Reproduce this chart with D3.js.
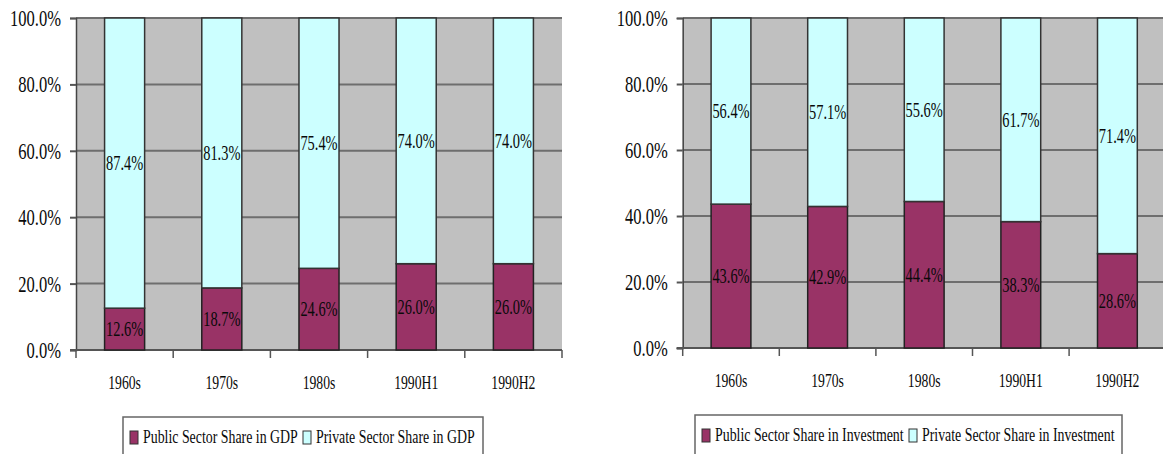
<!DOCTYPE html>
<html>
<head>
<meta charset="utf-8">
<script src="https://cdn.jsdelivr.net/npm/d3@7"></script>
<style>
  html, body { margin: 0; padding: 0; background: #ffffff; }
  svg { display: block; }
</style>
</head>
<body>
<svg id="chart" width="1163" height="454"></svg>
<script>
// Period categories shared by both panels
const categories = ["1960s", "1970s", "1980s", "1990H1", "1990H2"];

// Shares of GDP (%)
const gdpPublic = [12.6, 18.7, 24.6, 26.0, 26.0];
const gdpPrivate = [87.4, 81.3, 75.4, 74.0, 74.0];

// Shares of investment (%)
const invPublic = [43.6, 42.9, 44.4, 38.3, 28.6];
const invPrivate = [56.4, 57.1, 55.6, 61.7, 71.4];

// Value-axis ticks (%)
const yTicks = [0, 20, 40, 60, 80, 100];

const legendGdp = ["Public Sector Share in GDP", "Private Sector Share in GDP"];
const legendInv = ["Public Sector Share in Investment", "Private Sector Share in Investment"];

const COLORS = { public: "#993366", private: "#ccffff" };
const FONT = "'Liberation Serif', 'Times New Roman', serif";

const svg = d3.select("#chart");

// text with horizontally condensed glyphs
function label(g, x, y, str, size, anchor, sx) {
  return g.append("text")
    .attr("transform", `translate(${x},${y}) scale(${sx || 0.72},1)`)
    .attr("text-anchor", anchor || "middle")
    .attr("dominant-baseline", "central")
    .attr("font-family", FONT)
    .attr("font-size", size)
    .attr("fill", "#0a0a0a")
    .text(str);
}

function panel(cfg) {
  const g = svg.append("g");
  const x = d3.scaleBand().domain(categories)
    .range([cfg.left, cfg.right]).paddingInner(0.588).paddingOuter(0.294);
  const y = d3.scaleLinear().domain([0, 100]).range([cfg.bottom, cfg.top]);
  const step = x.step();

  // plot background
  g.append("rect")
    .attr("x", cfg.left).attr("y", cfg.top)
    .attr("width", cfg.right - cfg.left).attr("height", cfg.bottom - cfg.top)
    .attr("fill", "#c0c0c0");

  // gridlines
  g.selectAll(".grid").data(yTicks.filter(t => t > 0)).join("line")
    .attr("x1", cfg.left).attr("x2", cfg.right)
    .attr("y1", d => y(d)).attr("y2", d => y(d))
    .attr("stroke", "#6e6e6e").attr("stroke-width", 2);

  // y axis
  const yAxis = d3.axisLeft(y).tickValues(yTicks).tickSize(6).tickFormat("");
  const ya = g.append("g").attr("transform", `translate(${cfg.left},0)`).call(yAxis);
  ya.select(".domain").attr("stroke", "#444").attr("stroke-width", 1.5);
  ya.selectAll(".tick line").attr("stroke", "#555").attr("stroke-width", 2);
  yTicks.forEach(t => label(g, cfg.left - 15, y(t), d3.format(".1f")(t) + "%", 23, "end"));

  // x axis
  const xa = g.append("g").attr("transform", `translate(0,${cfg.bottom})`);
  xa.append("line").attr("x1", cfg.left - 6).attr("x2", cfg.right)
    .attr("stroke", "#555").attr("stroke-width", 2);
  d3.range(categories.length + 1).forEach(i => {
    xa.append("line")
      .attr("x1", cfg.left + i * step).attr("x2", cfg.left + i * step)
      .attr("y1", 0).attr("y2", 8)
      .attr("stroke", "#555").attr("stroke-width", 1.5);
  });
  categories.forEach(c => label(g, x(c) + x.bandwidth() / 2, cfg.bottom + 33, c, 19));

  // stacked bars
  const pub = cfg.publicVals, prv = cfg.privateVals;
  categories.forEach((c, i) => {
    const bx = x(c), bw = x.bandwidth();
    g.append("rect").attr("x", bx).attr("width", bw)
      .attr("y", y(pub[i])).attr("height", y(0) - y(pub[i]))
      .attr("fill", COLORS.public).attr("stroke", "#222").attr("stroke-width", 1.5);
    g.append("rect").attr("x", bx).attr("width", bw)
      .attr("y", y(pub[i] + prv[i])).attr("height", y(pub[i]) - y(pub[i] + prv[i]))
      .attr("fill", COLORS.private).attr("stroke", "#333").attr("stroke-width", 1.5);
    label(g, bx + bw / 2, y(pub[i] / 2), d3.format(".1f")(pub[i]) + "%", 20);
    label(g, bx + bw / 2, y(pub[i] + prv[i] / 2), d3.format(".1f")(prv[i]) + "%", 20);
  });

  // legend
  const lg = g.append("g");
  lg.append("rect")
    .attr("x", cfg.legend.x).attr("y", cfg.legend.y)
    .attr("width", cfg.legend.w).attr("height", 40)
    .attr("fill", "#fff").attr("stroke", "#666").attr("stroke-width", 1.5);
  const ly = cfg.legend.y + 20;
  [["public", cfg.names[0], cfg.legend.s1], ["private", cfg.names[1], cfg.legend.s2]]
    .forEach(([key, name, sx]) => {
      lg.append("rect").attr("x", sx).attr("y", ly - 6).attr("width", 8).attr("height", 13)
        .attr("fill", COLORS[key]).attr("stroke", "#333").attr("stroke-width", 1);
      label(lg, sx + 13, ly, name, 19, "start", 0.73);
    });
}

panel({
  left: 76, right: 562, top: 18, bottom: 350,
  publicVals: gdpPublic, privateVals: gdpPrivate, names: legendGdp,
  legend: { x: 123, y: 417, w: 360, s1: 130, s2: 303 }
});

panel({
  left: 682.7, right: 1165.7, top: 18, bottom: 348,
  publicVals: invPublic, privateVals: invPrivate, names: legendInv,
  legend: { x: 695, y: 415, w: 427, s1: 702, s2: 909 }
});
</script>
</body>
</html>
